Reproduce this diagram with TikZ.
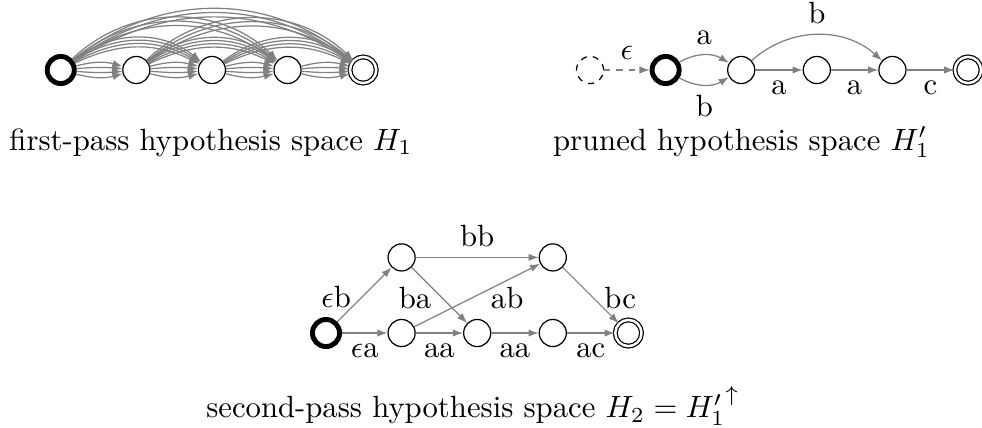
\documentclass[tikz,border=0pt]{standalone}
\usetikzlibrary{positioning,arrows.meta}

\tikzset{
  hstate/.style={draw, circle, minimum size=0.31cm, inner sep=0pt},
  hstart/.style={hstate, line width=1.6pt},
  hfinal/.style={hstate, double, double distance=0.8pt, minimum size=0.3cm},
  hghost/.style={hstate, dash pattern=on 2pt off 2pt},
  hedge/.style={draw=gray, -{Latex[length=3.3pt,width=2.4pt]}},
}

\begin{document}
\begin{tikzpicture}[node distance=0.865cm, on grid]
    \useasboundingbox (0,0) rectangle (11.236,4.886);

    % First-pass space H_1
    \node[hstart] (f1) at (0.695,4.085) {};
    \node[hstate, right=of f1] (f2) {};
    \node[hstate, right=of f2] (f3) {};
    \node[hstate, right=of f3] (f4) {};
    \node[hfinal, right=of f4] (f5) {};

    % every jump, several labels each
    \foreach \i/\j in {1/2,2/3,3/4,4/5}
        \foreach \b in {-15,-5,5,15}
            \draw[hedge] (f\i) to[bend left=\b] (f\j);
    \foreach \i/\j in {1/3,2/4,3/5}
        \foreach \b in {26,30,34,38}
            \draw[hedge] (f\i) to[bend left=\b] (f\j);
    \foreach \i/\j in {1/4,2/5}
        \foreach \b in {36,40,44}
            \draw[hedge] (f\i) to[bend left=\b] (f\j);
    \foreach \b in {33,36,39}
        \draw[hedge] (f1) to[bend left=\b] (f5);

    \node[anchor=base] (cap1) at (2.414,3.169) {first-pass hypothesis space $H_1$};

    % Pruned space H_1'
    \node[hghost] (p0) at (6.751,4.085) {};
    \node[hstart, right=of p0] (p1) {};
    \node[hstate, right=of p1] (p2) {};
    \node[hstate, right=of p2] (p3) {};
    \node[hstate, right=of p3] (p4) {};
    \node[hfinal, right=of p4] (p5) {};

    \draw[hedge, dash pattern=on 2pt off 2pt] (p0) -- node[above] {$\epsilon$} (p1);
    \draw[hedge] (p1) to[bend left=30] node[above] {a} (p2);
    \draw[hedge] (p1) to[bend right=30] node[below] {b} (p2);
    \draw[hedge] (p2) -- node[below] {a} (p3);
    \draw[hedge] (p3) -- node[below] {a} (p4);
    \draw[hedge] (p2) to[bend left=42] node[above] {b} (p4);
    \draw[hedge] (p4) -- node[below] {c} (p5);

    \node[anchor=base] (cap2) at (8.484,3.169) {pruned hypothesis space $H_1'$};

    % Second-pass space H_2
    \node[hstart] (s0) at (3.730,1.0755) {};
    \node[hstate, right=of s0] (s1) {};
    \node[hstate, right=of s1] (s2) {};
    \node[hstate, right=of s2] (s3) {};
    \node[hfinal, right=of s3] (s4) {};
    \node[hstate, above=of s1] (t1) {};
    \node[hstate, above=of s3] (t2) {};

    \draw[hedge] (s0) -- node[left, pos=0.45] {$\epsilon$b} (t1);
    \draw[hedge] (s0) -- node[below] {$\epsilon$a} (s1);
    \draw[hedge] (t1) -- node[above] {bb} (t2);
    \draw[hedge] (t1) -- node[left, pos=0.55] {ba} (s2);
    \draw[hedge] (s1) -- node[right, xshift=3pt, pos=0.45] {ab} (t2);
    \draw[hedge] (t2) -- node[right, pos=0.55] {bc} (s4);
    \draw[hedge] (s1) -- node[below] {aa} (s2);
    \draw[hedge] (s2) -- node[below] {aa} (s3);
    \draw[hedge] (s3) -- node[below] {ac} (s4);

    \node[anchor=base] (cap3) at (5.41,0.11) {second-pass hypothesis space $H_2 = {H_1'}^{\uparrow}$};
\end{tikzpicture}
\end{document}
